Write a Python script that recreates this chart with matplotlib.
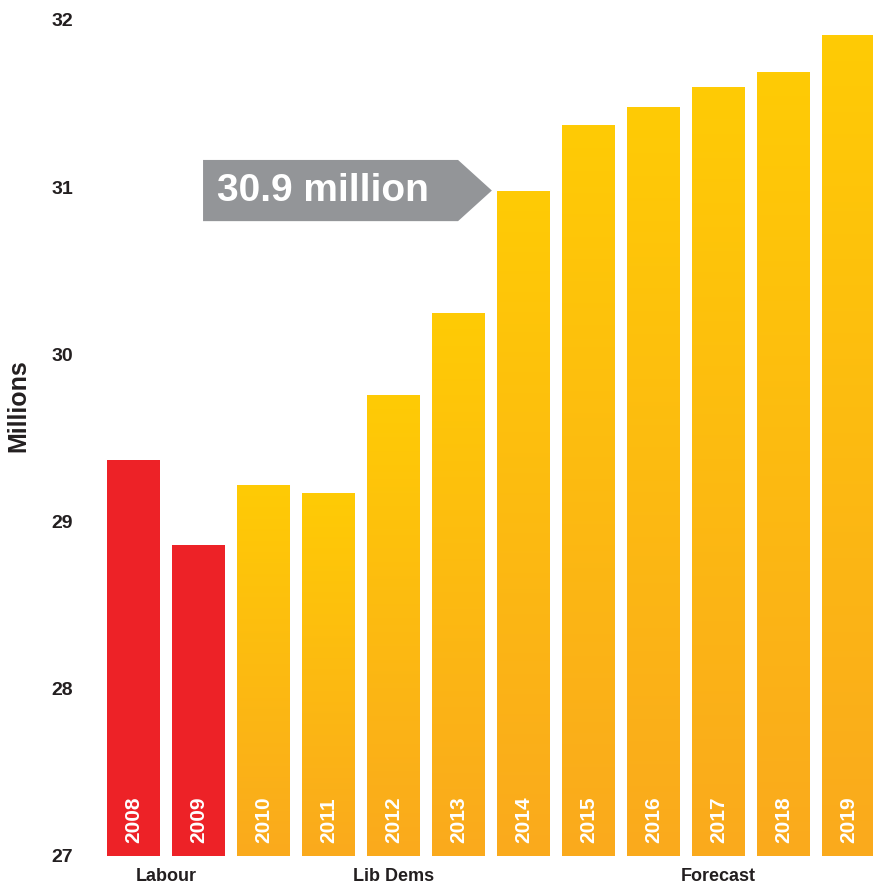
import matplotlib.pyplot as plt
import numpy as np
from matplotlib.colors import LinearSegmentedColormap
from matplotlib.patches import Polygon

years = ["2008", "2009", "2010", "2011", "2012", "2013",
         "2014", "2015", "2016", "2017", "2018", "2019"]
values = [29.37, 28.86, 29.22, 29.17, 29.76, 30.25,
          30.98, 31.37, 31.48, 31.60, 31.69, 31.91]
parties = ["Labour", "Labour", "Lib Dems", "Lib Dems", "Lib Dems", "Lib Dems",
           "Lib Dems", "Forecast", "Forecast", "Forecast", "Forecast", "Forecast"]
group_labels = ["Labour", "Lib Dems", "Forecast"]
callout_text = "30.9 million"
callout_year = "2014"

plt.rcParams['font.family'] = ['Liberation Sans', 'DejaVu Sans']
dark = '#231f20'
red = '#ed2227'
grey = '#939598'
grad = LinearSegmentedColormap.from_list('yo', ['#faaa1d', '#ffcb05'])

fig = plt.figure(figsize=(8.73, 8.90), dpi=100)
ax = fig.add_axes([100/873, 34/890, 773/873, 836/890])

x = np.arange(len(years))
width = 0.815
base = 27

bars = ax.bar(x, np.array(values) - base, width, bottom=base, color='none')
for i, b in enumerate(bars):
    if parties[i] == "Labour":
        b.set_facecolor(red)
    else:
        x0 = b.get_x()
        g = np.linspace(0, 1, 256).reshape(-1, 1)
        im = ax.imshow(g, cmap=grad, origin='lower', aspect='auto',
                       extent=[x0, x0 + width, base, values[i]], zorder=1)
        im.set_clip_path(b)
    ax.text(x[i], 27.08, years[i], rotation=90, ha='center', va='bottom',
            color='white', fontsize=15, fontweight='bold', zorder=3)

ax.set_xlim(-0.515, 11.375)
ax.set_ylim(27, 32)

# group labels under the bars
for g in group_labels:
    idx = [i for i, p in enumerate(parties) if p == g]
    ax.text(np.mean(x[idx]), 26.875, g, ha='center', va='center',
            fontsize=13, fontweight='bold', color=dark, clip_on=False)

# callout arrow pointing at the chosen bar
ci = years.index(callout_year)
tip_x = x[ci] - width / 2 - 0.08
tip_y = values[ci]
h = 0.183
poly = Polygon([[1.07, tip_y - h], [tip_x - 0.52, tip_y - h], [tip_x, tip_y],
                [tip_x - 0.52, tip_y + h], [1.07, tip_y + h]],
               closed=True, facecolor=grey, edgecolor='none', zorder=4)
ax.add_patch(poly)
ax.text(1.29, tip_y, callout_text, ha='left', va='center', color='white',
        fontsize=28, fontweight='bold', zorder=5)

ax.set_yticks([27, 28, 29, 30, 31, 32])
ax.set_xticks([])
ax.tick_params(axis='y', length=0, pad=19.5, labelsize=14, labelcolor=dark)
for lab in ax.get_yticklabels():
    lab.set_fontweight('bold')
for s in ax.spines.values():
    s.set_visible(False)

fig.text(18/873, 1 - 406/890, "Millions", rotation=90, ha='center', va='center',
         fontsize=18, fontweight='bold', color=dark)

plt.savefig("out.png", dpi=100)
